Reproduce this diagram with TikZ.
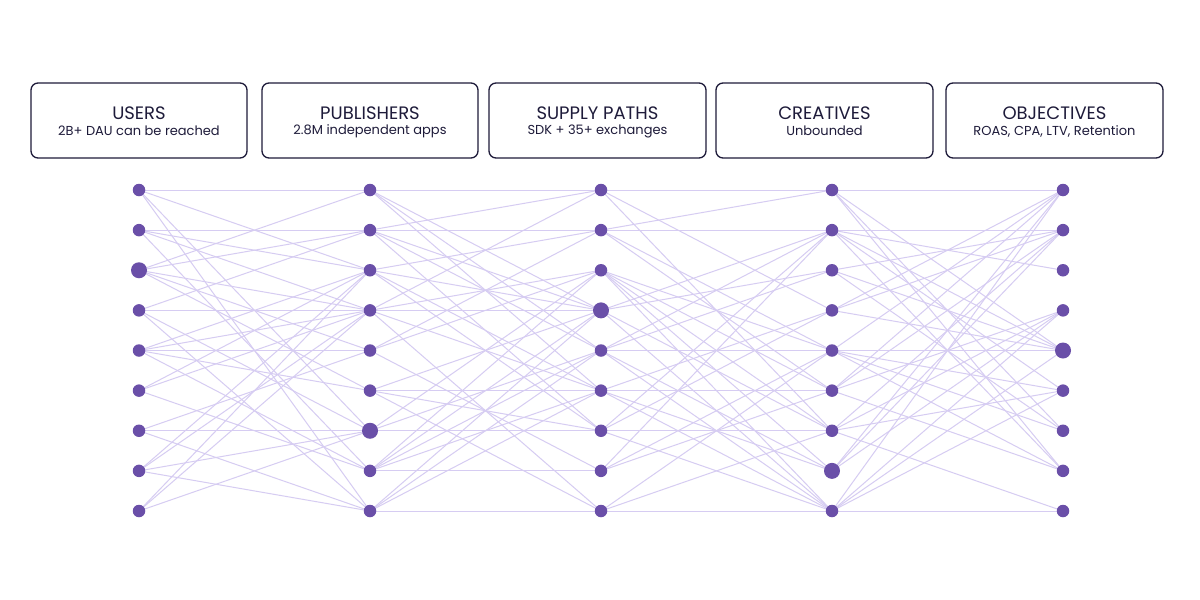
\documentclass[tikz,border=0pt]{standalone}
\usepackage{fontspec}
\setmainfont{Poppins}
\usetikzlibrary{backgrounds}
\definecolor{dotc}{HTML}{6A4FA8}
\definecolor{edgec}{HTML}{D6CCF2}
\definecolor{boxc}{HTML}{1E1B3A}
\begin{document}
\begin{tikzpicture}[x=1pt,y=-1pt,
  dot/.style={circle,fill=dotc,inner sep=0pt,minimum size=12.5pt},
  bigdot/.style={circle,fill=dotc,inner sep=0pt,minimum size=16pt},
  edge/.style={draw=edgec,line width=1pt},
  hbox/.style={draw=boxc,line width=1.3pt,rounded corners=7pt},
  ttl/.style={text=boxc,font=\fontsize{18}{20}\selectfont,inner sep=0pt},
  sub/.style={text=boxc,font=\fontsize{13}{15}\selectfont,inner sep=0pt}]
\useasboundingbox (0,0) rectangle (1200,600);
% header boxes
\draw[hbox] (31,83) rectangle (247,158);
\draw[hbox] (262,83) rectangle (478,158);
\draw[hbox] (489,83) rectangle (706,158);
\draw[hbox] (716,83) rectangle (933,158);
\draw[hbox] (946,83) rectangle (1163,158);
\node[ttl] (t1) at (139,113) {USERS};
\node[sub] (s1) at (139,131) {2B+ DAU can be reached};
\node[ttl] (t2) at (370,113) {PUBLISHERS};
\node[sub] (s2) at (370,131) {2.8M independent apps};
\node[ttl] (t3) at (597.5,113) {SUPPLY PATHS};
\node[sub] (s3) at (597.5,131) {SDK + 35+ exchanges};
\node[ttl] (t4) at (824.5,113) {CREATIVES};
\node[sub] (s4) at (824.5,131) {Unbounded};
\node[ttl] (t5) at (1054.5,113) {OBJECTIVES};
\node[sub] (s5) at (1054.5,131) {ROAS, CPA, LTV, Retention};
% nodes
\foreach \col/\x in {u/139,p/370,s/601,c/832,o/1063}{
  \foreach \i in {1,...,9}{
    \node[dot] (\col\i) at (\x,{190+40.125*(\i-1)}) {};
  }
}
% big nodes (overlay)
\node[bigdot] (u3b) at (u3) {};
\node[bigdot] (p7b) at (p7) {};
\node[bigdot] (s4b) at (s4) {};
\node[bigdot] (c8b) at (c8) {};
\node[bigdot] (o5b) at (o5) {};
\begin{pgfonlayer}{background}
\fill[white] (0,0) rectangle (1200,600);
% gap 1: users -> publishers
\foreach \a/\b in {1/1,1/3,1/7,1/9,2/2,2/3,2/4,2/8,3/1,3/2,3/4,3/5,3/6,
  4/4,4/2,4/7,4/9,5/5,5/6,5/3,5/4,5/8,6/4,6/3,6/8,7/7,7/9,7/5,
  8/7,8/9,8/3,8/4,9/7,9/3,9/4}
  \draw[edge] (u\a.center) -- (p\b.center);
% gap 2: publishers -> supply paths
\foreach \a/\b in {1/1,1/4,1/5,1/6,2/2,2/1,2/4,2/5,2/7,3/2,3/6,3/7,3/4,
  4/4,4/1,4/3,4/6,4/9,5/3,5/2,5/8,6/6,6/4,6/7,6/9,7/5,7/3,7/7,
  8/8,8/3,8/4,8/5,8/6,9/9,9/4,9/5,9/6}
  \draw[edge] (p\a.center) -- (s\b.center);
% gap 3: supply paths -> creatives
\foreach \a/\b in {1/1,1/4,1/7,2/2,2/1,2/5,2/6,3/5,3/6,3/7,3/8,3/9,
  4/2,4/3,4/7,4/9,5/5,5/2,5/3,5/8,5/9,6/6,6/4,6/8,6/9,7/7,7/4,7/2,7/9,
  8/6,8/5,8/2,9/9,9/7,9/5}
  \draw[edge] (s\a.center) -- (c\b.center);
% gap 4: creatives -> objectives
\foreach \a/\b in {1/1,1/5,1/7,1/8,2/2,2/3,2/5,2/6,2/8,3/2,3/5,3/7,
  4/2,4/1,4/5,5/5,5/1,5/6,5/7,5/8,6/2,6/4,6/1,6/8,7/4,7/2,7/6,7/9,
  8/2,8/1,8/4,9/9,9/4,9/5,9/1,9/6}
  \draw[edge] (c\a.center) -- (o\b.center);
\end{pgfonlayer}
\end{tikzpicture}
\end{document}
